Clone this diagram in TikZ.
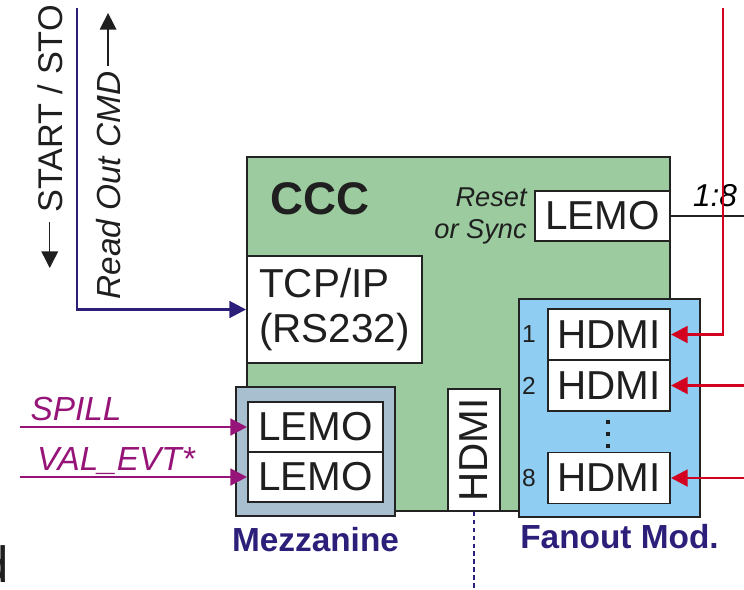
\documentclass[tikz,border=0pt]{standalone}
\usepackage{fontspec}
\setmainfont{Liberation Sans}
\usetikzlibrary{positioning,arrows.meta}
\definecolor{cccgreen}{HTML}{9CCB9F}
\definecolor{fanblue}{HTML}{8FCEF2}
\definecolor{mezzgray}{HTML}{A8BFD0}
\definecolor{ctrlnavy}{HTML}{2B1F7A}
\definecolor{clkred}{HTML}{D4001F}
\definecolor{spillpurple}{HTML}{961478}
\definecolor{edgegray}{HTML}{232323}

\begin{document}
\begin{tikzpicture}[x=0.02cm, y=-0.02cm,
  every node/.style={font=\fontsize{23}{25.5}\selectfont, text=black!88},
  panel/.style={rectangle, draw=edgegray, line width=1.1pt},
  port/.style={panel, fill=white, inner sep=0pt, minimum width=2.7cm, minimum height=1cm},
  hdmiport/.style={port, minimum width=2.44cm, minimum height=1.02cm},
  lbl/.style={font=\fontsize{19}{22}\selectfont\itshape, inner sep=0pt},
  modname/.style={font=\fontsize{19}{22}\selectfont\bfseries, text=ctrlnavy, inner sep=0pt},
  num/.style={font=\fontsize{14}{15}\selectfont, inner sep=0pt},
  sig/.style={line width=1.6pt, -{Triangle[length=9.5pt,width=9.5pt]}},
  cmd/.style={line width=0.8pt, draw=black!88, -{Triangle[length=9.5pt,width=9.5pt]}}
]
\useasboundingbox (0,0) rectangle (744,589);
% main board
\node[panel, fill=cccgreen, minimum width=8.46cm, minimum height=7.08cm] (ccc) at (458.5,334) {};
\node[font=\fontsize{26}{30}\selectfont\bfseries, inner sep=0pt] (ccctitle) at (320,199) {CCC};
\node[port, minimum width=3.5cm, minimum height=2.14cm, align=left] (tcp) at (334.5,309.5) {TCP/IP\\(RS232)};
\node[port] (lemoR) at (602.5,216) {LEMO};
\node[font=\fontsize{15.5}{18}\selectfont\itshape, inner sep=0pt, align=right, left=0.14cm of lemoR] (resetlbl) {Reset\\or Sync};
\node[port, rotate=90, minimum width=2.44cm, minimum height=1.04cm] (hdmiV) at (474,450) {HDMI};
% mezzanine
\node[panel, fill=mezzgray, minimum width=3.18cm, minimum height=2.58cm] (mezz) at (315.5,451.5) {};
\node[port] (lemoA) at (315.5,427) {LEMO};
\node[port] (lemoB) at (315.5,477) {LEMO};
\node[modname, below=0.2cm of mezz] (mezzlbl) {Mezzanine};
% fanout module
\node[panel, fill=fanblue, minimum width=3.62cm, minimum height=4.36cm] (fanout) at (609.5,408) {};
\node[hdmiport] (hdmiA) at (609,334.5) {HDMI};
\node[hdmiport] (hdmiB) at (609,385.5) {HDMI};
\node[hdmiport] (hdmiH) at (609,478) {HDMI};
\node[num, left=0.22cm of hdmiA] (numA) {1};
\node[num, left=0.22cm of hdmiB] (numB) {2};
\node[num, left=0.22cm of hdmiH] (numH) {8};
\foreach \dy in {422,434,446}
  \fill[black!88] (605.5,\dy-2) rectangle ++(4,4);
\node[modname, below=0.12cm of fanout, xshift=0.2cm] (fanlbl) {Fanout Mod.};
% edge labels
\node[lbl, rotate=90, anchor=base west] (readout) at (120,300) {Read Out CMD};
\node[font=\fontsize{19.5}{22}\selectfont, inner sep=0pt, rotate=90, anchor=base west] (startstop) at (62,213) {START / STO};
\node[lbl, text=spillpurple, anchor=base] (spill) at (76,420) {SPILL};
\node[lbl, text=spillpurple, anchor=base] (valevt) at (116,470) {VAL\_EVT*};
\node[lbl, font=\fontsize{18}{20}\selectfont\itshape, text=black] (ratio) at (715,196) {1:8};
\node[font=\fontsize{29}{32}\selectfont, inner sep=0pt, anchor=base east] (cutd) at (9,582) {d};
% free ends
\coordinate (rotop) at (77,8);
\coordinate (clktop) at (723,8);
\coordinate (rim) at (744,0);
\coordinate (lrim) at (20,0);
\coordinate (bot) at (0,589);
\coordinate (readtip) at (107,13);
\coordinate (stoptip) at (48,268);
% connectors
\draw[cmd, shorten <=3pt] (readout.east) -- (readout.east |- readtip);
\draw[cmd, shorten <=5pt] (startstop.west) -- (startstop.west |- stoptip);
\draw[sig, ctrlnavy] (rotop) |- (tcp.west);
\draw[line width=0.7pt, edgegray] (lemoR.east) -- (lemoR.east -| rim);
\draw[sig, clkred] (clktop) |- (hdmiA.east);
\draw[sig, clkred] (rim |- hdmiB) -- (hdmiB.east);
\draw[sig, clkred] (rim |- hdmiH) -- (hdmiH.east);
\draw[sig, spillpurple] (lrim |- lemoA) -- (lemoA.west);
\draw[sig, spillpurple] (lrim |- lemoB) -- (lemoB.west);
\draw[line width=1.2pt, ctrlnavy, dash pattern=on 2.5pt off 2pt] (hdmiV.west) -- (hdmiV.west |- bot);
\end{tikzpicture}
\end{document}
